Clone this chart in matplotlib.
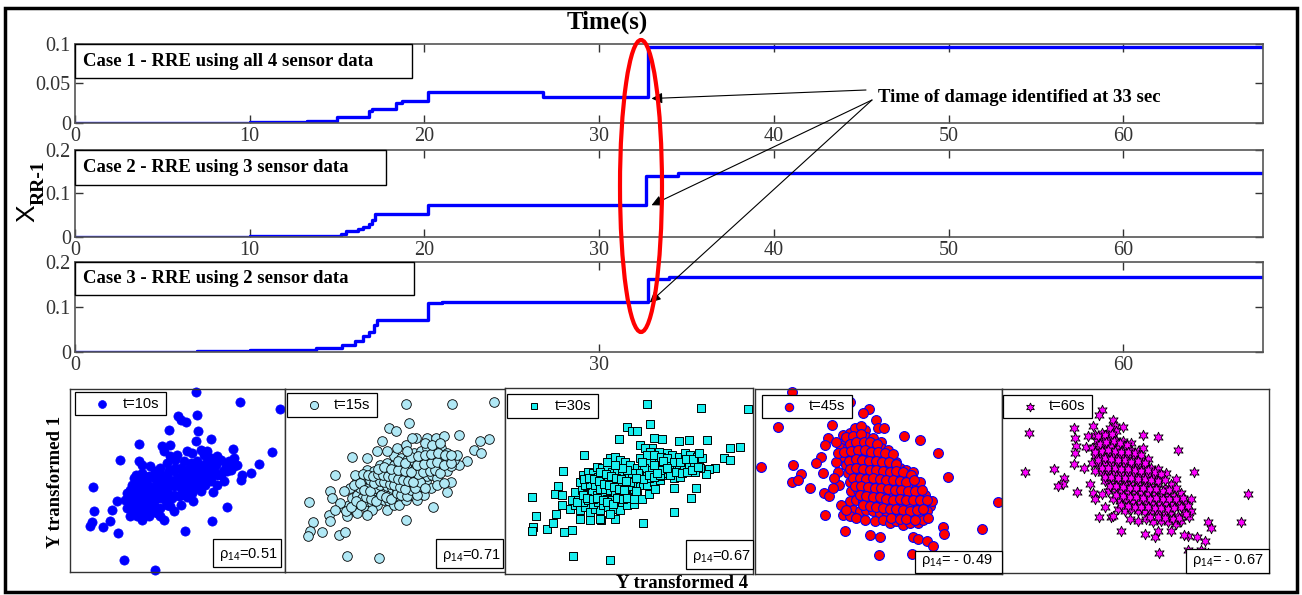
import matplotlib.pyplot as plt
from matplotlib.lines import Line2D
from matplotlib.patches import Ellipse, Rectangle

# ---- RRE damage index, three cases (time s, value) ----
t_case1 = [0, 4, 10, 13.3, 14.0, 15.0, 16.8, 17.0, 18.4, 18.7, 20.2, 26.8, 32.8, 68]
v_case1 = [0, 0.0005, 0.001, 0.002, 0.003, 0.008, 0.015, 0.018, 0.025, 0.028, 0.039, 0.033, 0.096, 0.096]

t_case2 = [0, 4, 10, 13.8, 15.2, 15.5, 16.2, 16.5, 16.8, 17.0, 17.2, 20.2, 32.7, 34.5, 68]
v_case2 = [0, 0.0005, 0.002, 0.003, 0.008, 0.013, 0.018, 0.024, 0.030, 0.038, 0.054, 0.074, 0.141, 0.146, 0.146]

t_case3 = [0, 5, 7, 10, 13.8, 15.3, 16.0, 16.5, 16.8, 17.1, 17.3, 20.2, 21.0, 32.8, 34.0, 68]
v_case3 = [0, 0.001, 0.002, 0.004, 0.008, 0.015, 0.025, 0.035, 0.045, 0.060, 0.072, 0.108, 0.111, 0.163, 0.166, 0.166]

case_labels = ["Case 1 - RRE using all 4 sensor data",
               "Case 2 - RRE using 3 sensor data",
               "Case 3 - RRE using 2 sensor data"]

# ---- scatter clouds (Y transformed 4, Y transformed 1) ----
s10 = [(405,578),(538,548),(657,527),(352,505),(410,510),(375,488),(360,495),(327,465),(413,460),(450,438),
       (237,423),(305,417),(330,420),(405,430),(180,375),(632,397),(518,407),(593,363),(569,334),(545,330),
       (540,315),(98,293),(101,220),(155,223),(95,188),(90,175),(128,173),(148,191),(173,156),(373,162),
       (455,192),(500,232),(192,73),(283,43),(171,252),(457,278),(398,250),
       (235,370),(245,360),(270,355),(300,350),(320,365),(345,375),(370,370),(390,365),(410,370),(430,390),
       (450,380),(470,385),(480,375),(495,355),(520,380),(530,360),(500,340),(480,330),(460,340),(440,350),
       (420,340),(400,330),(380,340),(360,350),(340,340),(320,330),(300,335),(280,320),(260,320),(240,310),
       (220,320),(215,300),(230,290),(250,285),(270,290),(290,300),(310,310),(330,315),(350,320),(370,310),
       (390,305),(410,310),(430,315),(450,310),(470,300),(420,280),(400,290),(380,280),(360,290),(340,295),
       (320,280),(300,280),(280,270),(260,270),(240,265),(220,270),(200,275),(195,255),(215,245),(235,250),
       (255,250),(275,255),(295,260),(315,255),(335,260),(355,265),(375,270),(395,275),(200,230),(220,220),
       (240,225),(260,230),(280,240),(300,230),(320,240),(340,220),(360,240),(210,205),(245,195),(265,205),
       (300,205),(310,195),(330,235),(290,215),(230,205),(270,235),(380,400),(395,395),(420,405),(440,400),
       (460,365),(350,390),(330,385),(310,400),(265,325),(285,340),(245,335),(410,350),(435,365),(455,350),
       (380,325),(365,330),(345,300),(325,300),(305,295),(395,320),(415,325),(440,330),(490,310),(510,345),
       (225,285),(245,300),(262,298),(282,292),(300,292),(318,292),(338,308),(358,300),(375,295),(392,292),
       (412,295),(432,300),(452,325),(470,330),(488,340),(262,258),(282,255),(300,265),(320,265),(340,270),
       (360,270),(380,262),(360,318),(385,350),(405,345),(425,355),(445,370),(465,360),(505,370),(520,355),
       (250,240),(270,245),(325,345),(345,350),(300,320),(318,315),(232,238),(252,218),(280,222),(200,258),
       (210,285),(228,330)]

s15 = [(375,542),(513,542),(638,548),(325,470),(345,460),(385,485),(535,450),(625,438),(598,430),(580,405),
       (600,395),(560,372),(535,360),(510,307),(500,278),(457,233),(377,195),(165,330),(88,248),(150,280),
       (155,260),(145,210),(98,188),(90,160),(85,145),(125,158),(150,190),(175,148),(195,157),(200,85),
       (297,80),(215,382),(305,430),
       (190,230),(205,240),(220,225),(235,245),(250,235),(215,260),(230,270),(245,260),(260,250),(275,245),
       (290,240),(265,270),(280,265),(295,260),(310,255),(325,250),(300,280),(315,275),(330,270),(345,265),
       (360,260),(240,290),(255,300),(270,295),(285,290),(300,300),(320,295),(335,290),(350,285),(365,280),
       (380,275),(395,270),(410,280),(230,310),(250,320),(270,315),(290,320),(310,320),(330,315),(345,310),
       (360,305),(375,300),(390,295),(405,300),(420,295),(435,310),(260,345),(280,340),(300,335),(320,340),
       (340,335),(360,330),(380,325),(400,320),(420,320),(440,325),(455,330),(470,320),(300,360),(320,365),
       (340,360),(360,355),(380,350),(400,345),(420,345),(440,350),(460,355),(480,345),(500,340),(340,385),
       (360,380),(380,375),(400,370),(420,370),(440,375),(460,380),(480,385),(500,380),(520,375),(400,395),
       (420,400),(440,410),(460,400),(480,410),(500,395),(405,440),(440,440),(465,440),(490,445),(210,290),
       (225,330),(275,225),(320,225),(340,240),(200,205),(230,215),(260,210),(355,240),(375,255),(410,255),
       (430,270),(450,290),(470,300),(490,305),(510,355),(530,390),(260,380),(290,400),(320,400),(350,410),
       (375,420),(395,440),(190,280),(180,245),(165,225),
       (198,222),(212,232),(228,252),(242,238),(258,262),(272,258),(288,252),(302,268),(318,262),(332,258),
       (348,275),(362,270),(378,265),(392,285),(408,268),(222,300),(238,305),(252,285),(268,282),(282,305),
       (298,310),(312,308),(328,302),(342,298),(358,292),(372,288),(388,310),(402,290),(418,308),(432,290),
       (248,332),(262,328),(278,325),(292,332),(308,328),(322,326),(338,322),(352,318),(368,314),(382,312),
       (398,308),(412,332),(428,338),(448,340),(462,345),(478,335),(292,348),(312,352),(332,348),(352,345),
       (372,340),(392,338),(410,358),(430,362),(450,365),(470,368),(490,360),(510,365),(352,370),(372,365),
       (392,382),(412,385),(432,390),(452,392),(472,395),(492,388),(512,390),(380,400),(432,425),(455,420),
       (478,425)]

s30 = [(440,542),(602,530),(742,527),(450,482),(380,473),(395,462),(410,462),(358,437),(462,442),(485,438),
       (535,432),(567,435),(620,435),(688,410),(720,414),(672,382),(690,375),(645,352),(625,348),(618,332),
       (252,390),(190,343),(175,297),(165,275),(185,270),(97,266),(185,240),(168,213),(107,207),(100,175),
       (95,163),(140,170),(160,187),(193,160),(215,165),(220,90),(330,77),(428,188),(522,220),(572,263),
       (587,293),(520,293),(303,195),(345,200),
       (210,230),(225,240),(240,225),(255,235),(270,220),(285,230),(300,225),(215,255),(235,260),(250,250),
       (265,255),(280,245),(295,250),(310,240),(325,235),(340,230),(225,280),(245,285),(260,275),(275,280),
       (290,270),(305,265),(320,260),(335,255),(350,250),(365,245),(240,310),(255,300),(270,305),(285,300),
       (300,290),(315,290),(330,285),(345,280),(360,275),(375,270),(250,330),(265,340),(280,335),(295,325),
       (310,320),(325,315),(340,310),(355,305),(370,300),(385,295),(290,355),(305,350),(320,345),(335,340),
       (350,335),(365,330),(380,325),(395,320),(330,380),(345,385),(360,375),(375,370),(390,360),(410,350),
       (425,345),(440,340),(455,335),(420,380),(440,370),(460,375),(475,365),(505,360),(520,355),(535,350),
       (550,345),(565,355),(580,360),(595,370),(600,350),(585,340),(455,410),(475,400),(500,395),(515,390),
       (535,385),(555,395),(570,390),(590,385),(605,380),(420,420),(435,410),(450,400),(395,265),(398,280),
       (402,295),(405,310),(400,325),(396,305),(392,290),(410,275),(385,280),(415,300),(488,330),(492,345),
       (495,360),(485,355),(498,340),(482,340),(470,350),(505,345),(440,300),(460,310),(480,315),(520,320),
       (540,325),(430,330),(450,345),(240,200),(270,195),(300,200),(330,215),(360,225),(380,240),(400,245),
       (425,260),(445,275),(465,290),(398,270),(401,288),(404,302),(399,318),(394,298),(406,284),(490,335),
       (494,352),(487,362),(497,368),(484,348),(480,328),(430,352),(415,330),(445,320),(372,285),(358,295),
       (230,250),(248,270),(262,262),(278,258),(292,262),(308,255),(322,250),(338,245),(352,262),(368,258),
       (382,262),(252,318),(268,322),(282,318),(298,312),(312,305),(328,300),(342,295),(358,290),(372,285),
       (388,310),(300,340),(318,332),(332,328),(348,322),(362,318),(378,312),(412,335),(428,318),(445,330),
       (462,325),(478,330),(510,330),(528,340),(545,335),(560,340),(575,345),(592,355),(440,390),(462,390),
       (482,385),(500,380),(520,370),(540,370),(558,378),(578,378),(595,395),(402,258),(396,335),(408,322),
       (488,372),(478,345),(500,350),(470,335),(460,360),(425,370),(380,345),(365,350),(345,360),(320,370)]

s45 = [(128,578),(300,550),(357,528),(340,515),(380,495),(88,473),(248,480),(385,472),(403,470),(462,447),
       (510,435),(563,395),(35,355),(130,360),(155,332),(128,310),(147,315),(182,290),(593,325),(742,248),
       (695,167),(580,172),(583,152),(227,210),(286,162),(360,150),(390,142),(488,142),(503,138),(530,132),
       (550,115),(485,93),(527,87),(548,80),(388,90),(235,440),(228,420),(215,385),(200,365),(222,335),
       (225,275),(240,265),
       (280,450),(300,455),(320,460),(345,465),(290,430),(310,435),(330,440),(350,445),(370,440),(395,430),
       (275,410),(295,415),(315,420),(335,415),(355,420),(375,415),(395,410),(415,405),(285,385),(305,390),
       (325,395),(345,390),(365,385),(385,390),(405,385),(425,380),(440,370),(290,360),(310,365),(330,360),
       (350,365),(370,360),(390,355),(410,360),(430,355),(450,350),(470,345),(295,335),(315,340),(335,335),
       (355,330),(375,335),(395,330),(415,325),(435,330),(455,325),(475,320),(490,340),(300,310),(320,305),
       (340,310),(360,305),(380,300),(400,305),(420,300),(440,295),(460,300),(480,290),(500,295),(510,310),
       (305,280),(325,285),(345,280),(365,275),(385,280),(405,275),(425,270),(445,275),(465,265),(485,270),
       (505,265),(525,270),(300,250),(320,255),(340,250),(360,245),(380,250),(400,245),(420,240),(440,245),
       (460,240),(480,235),(500,245),(520,240),(540,235),(310,225),(330,220),(350,225),(370,220),(390,215),
       (410,220),(430,215),(450,210),(470,215),(490,205),(510,210),(530,220),(545,250),(280,210),(300,205),
       (320,200),(345,195),(375,190),(400,195),(420,185),(440,190),(460,180),(480,185),(505,185),(520,195),
       (535,200),(270,300),(265,340),(260,370),(255,320),(275,240),(290,225),(250,290),(265,395),(315,470),
       (335,478),(260,430),
       (290,445),(310,448),(333,452),(300,422),(320,428),(342,430),(362,428),(382,422),(285,398),(305,402),
       (325,405),(345,405),(365,400),(385,398),(405,395),(430,392),(298,372),(318,378),(338,375),(358,372),
       (378,372),(398,368),(418,370),(438,362),(300,348),(320,350),(340,348),(360,345),(380,345),(400,342),
       (420,340),(440,342),(460,338),(482,330),(310,322),(330,322),(350,318),(370,320),(390,318),(410,315),
       (430,315),(450,312),(470,310),(492,315),(315,295),(335,295),(355,292),(375,290),(395,290),(415,288),
       (435,285),(455,285),(475,280),(495,280),(515,285),(330,268),(350,265),(370,262),(390,262),(410,258),
       (430,255),(450,258),(470,255),(490,255),(510,255),(530,255),(340,238),(360,235),(380,232),(400,230),
       (420,228),(440,228),(460,225),(480,222),(500,225),(520,228),(425,200),(450,198),(470,198),(495,195)]

s60 = [(322,525),(313,508),(355,495),(102,455),(238,470),(360,475),(385,472),(445,450),(490,442),(550,405),
       (90,337),(178,345),(208,320),(205,302),(188,295),(245,278),(598,337),(762,270),(742,185),(640,185),
       (650,167),(632,128),(608,140),(582,145),(570,147),(580,103),(620,100),(640,92),(492,92),(380,160),
       (312,202),(350,202),(450,150),(480,142),(490,160),(530,160),(240,440),(243,415),(240,395),(238,360),
       (272,412),(280,445),(268,350),
       (300,450),(320,455),(340,455),(365,460),(305,430),(325,435),(345,440),(365,435),(385,430),(410,425),
       (290,410),(310,415),(330,420),(350,415),(370,410),(390,415),(410,405),(430,400),(445,410),(300,385),
       (320,390),(340,395),(360,390),(380,385),(400,390),(420,385),(440,380),(460,375),(310,360),(330,365),
       (350,360),(370,365),(390,360),(410,355),(430,360),(450,355),(470,350),(490,345),(320,335),(340,340),
       (360,335),(380,330),(400,335),(420,330),(440,325),(460,330),(480,325),(500,320),(515,335),(330,310),
       (350,305),(370,310),(390,305),(410,300),(430,305),(450,300),(470,295),(490,300),(510,290),(530,300),
       (545,315),(340,280),(360,285),(380,280),(400,275),(420,280),(440,275),(460,270),(480,275),(500,265),
       (520,270),(540,265),(560,275),(355,255),(375,250),(395,255),(415,250),(435,245),(455,250),(475,245),
       (495,240),(515,245),(535,240),(555,250),(575,245),(590,255),(370,225),(390,220),(410,225),(430,220),
       (450,215),(470,220),(490,215),(510,210),(530,215),(550,205),(570,215),(590,220),(355,205),(405,195),
       (430,190),(455,195),(475,185),(500,190),(520,185),(545,180),(560,190),(585,200),(300,340),(290,365),
       (285,300),(295,275),(300,255),(320,270),(330,230),(345,470),(295,475),
       (310,445),(330,448),(353,452),(315,422),(335,428),(357,430),(377,425),(397,420),(300,398),(320,402),
       (340,405),(360,402),(380,398),(400,398),(420,395),(440,390),(310,372),(330,378),(350,375),(370,372),
       (390,372),(410,368),(430,370),(450,365),(320,348),(340,350),(360,348),(380,345),(400,345),(420,342),
       (440,340),(460,342),(480,338),(500,332),(330,322),(350,322),(370,320),(390,320),(410,318),(430,315),
       (450,315),(470,312),(490,310),(510,312),(345,295),(365,295),(385,292),(405,290),(425,290),(445,288),
       (465,285),(485,285),(505,280),(525,282),(545,290),(365,268),(385,265),(405,262),(425,262),(445,258),
       (465,255),(485,258),(505,255),(525,255),(545,255),(565,260),(380,238),(400,235),(420,232),(440,232),
       (460,230),(480,228),(500,228),(520,225),(540,228),(560,232),(580,235),(465,200),(490,202),(510,198),
       (535,195),(555,198),(575,210)]

scatter_sets = [s10, s15, s30, s45, s60]
scatter_times = ["t=10s", "t=15s", "t=30s", "t=45s", "t=60s"]
rho_values = ["=0.51", "=0.71", "=0.67", "= - 0.49", "= - 0.67"]

W, H = 1302, 595
fig = plt.figure(figsize=(W / 100, H / 100), dpi=100)


def box(x0, y0, x1, y1):
    # pixel box (top-left origin) -> figure fraction rect
    return [x0 / W, 1 - y1 / H, (x1 - x0) / W, (y1 - y0) / H]


def frame(x0, y0, x1, y1, lw=1.0, z=5):
    r = box(x0, y0, x1, y1)
    fig.add_artist(Rectangle((r[0], r[1]), r[2], r[3], transform=fig.transFigure,
                             fc="white", ec="black", lw=lw, zorder=z))


serif = "Liberation Serif"
sans = "Liberation Sans"
plt.rcParams["mathtext.fontset"] = "custom"
plt.rcParams["mathtext.rm"] = sans

# ---- time-history panels ----
line_boxes = [box(75, 44, 1263, 123), box(75, 150, 1263, 237), box(75, 262, 1263, 352)]
line_data = [(t_case1, v_case1), (t_case2, v_case2), (t_case3, v_case3)]
ytick_sets = [([0, 0.05, 0.1], ["0", "0.05", "0.1"]),
              ([0, 0.1, 0.2], ["0", "0.1", "0.2"]),
              ([0, 0.1, 0.2], ["0", "0.1", "0.2"])]
xtick_sets = [[0, 10, 20, 30, 40, 50, 60], [0, 10, 20, 30, 40, 50, 60], [0, 30, 60]]
case_frames = [(75, 44, 412, 78), (75, 150, 386, 185), (75, 262, 414, 295)]

axes_top = []
for i, rect in enumerate(line_boxes):
    ax = fig.add_axes(rect)
    t, v = line_data[i]
    ax.step(t, v, where="post", color="#0000ff", lw=2.4)
    ax.set_xlim(0, 68)
    yt, yl = ytick_sets[i]
    ax.set_ylim(0, yt[-1])
    ax.set_yticks(yt)
    ax.set_yticklabels(yl)
    ax.set_xticks(xtick_sets[i])
    ax.set_xticklabels([str(x) for x in xtick_sets[i]])
    ax.tick_params(direction="in", length=6, width=1, top=True, right=True,
                   labelsize=14.5, colors="#333333", pad=3)
    for lab in ax.get_xticklabels() + ax.get_yticklabels():
        lab.set_fontfamily(serif)
    for sp in ax.spines.values():
        sp.set_color("#555555")
        sp.set_linewidth(1.2)
    x0, y0, x1, y1 = case_frames[i]
    frame(x0, y0, x1, y1)
    fig.text(83 / W, 1 - (y0 + y1) / 2 / H, case_labels[i], ha="left", va="center",
             fontsize=13.5, fontweight="bold", family=serif, zorder=6)
    axes_top.append(ax)

fig.text(607 / W, 1 - 22 / H, "Time(s)", ha="center", va="center",
         fontsize=18, fontweight="bold", family=serif)
fig.text(27 / W, 1 - 213 / H, "X", rotation=90, ha="center", va="center",
         fontsize=19, family=sans)
fig.text(39 / W, 1 - 183 / H, "RR-1", rotation=90, ha="center", va="center",
         fontsize=14, fontweight="bold", family=serif)

# red ellipse around the damage instant
fig.add_artist(Ellipse((641 / W, 1 - 186 / H), 42 / W, 292 / H, transform=fig.transFigure,
                       fill=False, ec="red", lw=3, zorder=7))

# annotation arrows
fig.text(878 / W, 1 - 97 / H, "Time of damage identified at 33 sec", ha="left", va="center",
         fontsize=13.5, fontweight="bold", family=serif)
arrow_targets = [(0, 33.0, 0.031), (1, 33.0, 0.073), (2, 32.9, 0.110)]
arrow_starts = [(866, 90), (872, 100), (872, 100)]
for (k, tx, ty), (sx, sy) in zip(arrow_targets, arrow_starts):
    axes_top[k].annotate("", xy=(tx, ty), xycoords="data",
                         xytext=(sx / W, 1 - sy / H), textcoords="figure fraction",
                         arrowprops=dict(arrowstyle="-|>", color="black", lw=0.8,
                                         mutation_scale=16, shrinkA=0, shrinkB=0),
                         annotation_clip=False)

# ---- scatter panels ----
sc_boxes = [box(70, 389, 285, 572), box(285, 389, 505, 572), box(505, 388, 753, 574),
            box(755, 389, 1002, 574), box(1002, 389, 1269, 573)]
sc_limits = [((30, 672), (38, 587)), ((15, 672), (38, 587)), ((15, 758), (35, 590)),
             ((18, 755), (32, 588)), ((20, 825), (32, 588))]
sc_styles = [dict(marker="o", fc="#0000ff", ec="#0000ff", lw=0.5, s=44),
             dict(marker="o", fc="#b0e8f5", ec="black", lw=0.6, s=48),
             dict(marker="s", fc="#19eeee", ec="black", lw=0.7, s=30),
             dict(marker="o", fc="#ff0000", ec="#0000ff", lw=0.8, s=50),
             dict(marker=(6, 1, 0), fc="#ff00ff", ec="black", lw=0.6, s=58)]
legend_frames = [(75, 392, 166, 415), (287, 393, 377, 417), (507, 394, 598, 418),
                 (762, 395, 852, 418), (1003, 395, 1092, 418)]
rho_frames = [(213, 539, 281, 567), (436, 539, 503, 568), (686, 540, 753, 569),
              (915, 551, 1002, 573), (1186, 549, 1269, 573)]

for i, rect in enumerate(sc_boxes):
    ax = fig.add_axes(rect)
    pts = scatter_sets[i]
    xs = [p[0] for p in pts]
    ys = [p[1] for p in pts]
    st = sc_styles[i]
    ax.scatter(xs, ys, marker=st["marker"], facecolors=st["fc"], edgecolors=st["ec"],
               linewidths=st["lw"], s=st["s"], clip_on=False, zorder=2)
    ax.set_xlim(*sc_limits[i][0])
    ax.set_ylim(*sc_limits[i][1])
    ax.set_xticks([])
    ax.set_yticks([])
    for sp in ax.spines.values():
        sp.set_color("#333333")
        sp.set_linewidth(1)

    # legend box: marker + label
    lx0, ly0, lx1, ly1 = legend_frames[i]
    frame(lx0, ly0, lx1, ly1, lw=0.9)
    ym = (ly0 + ly1) / 2
    fig.add_artist(Line2D([(lx0 + 27) / W], [1 - ym / H], transform=fig.transFigure, ls="none",
                          marker=st["marker"], markerfacecolor=st["fc"], markeredgecolor=st["ec"],
                          markeredgewidth=st["lw"], markersize=st["s"] ** 0.5 * 0.85, zorder=6))
    fig.text((lx1 - 7) / W, 1 - ym / H, scatter_times[i], ha="right", va="center",
             fontsize=10.5, family=sans, zorder=6)

    # correlation box
    rx0, ry0, rx1, ry1 = rho_frames[i]
    frame(rx0, ry0, rx1, ry1, lw=0.9)
    fig.text((rx0 + 6) / W, 1 - (ry1 - 9) / H, "\u03c1$_{\\mathrm{14}}$" + rho_values[i],
             ha="left", va="baseline", fontsize=10.5, family=sans, zorder=6)

fig.text(55 / W, 1 - 482 / H, "Y transformed 1", rotation=90, ha="center", va="center",
         fontsize=13.5, fontweight="bold", family=serif)
fig.text(682 / W, 1 - 583 / H, "Y transformed 4", ha="center", va="center",
         fontsize=13.5, fontweight="bold", family=serif)

# outer frame
fig.add_artist(Rectangle((5 / W, 1 - 592 / H), 1292 / W, 584 / H, transform=fig.transFigure,
                         fill=False, ec="black", lw=2.5))

fig.savefig("out.png", dpi=100)
